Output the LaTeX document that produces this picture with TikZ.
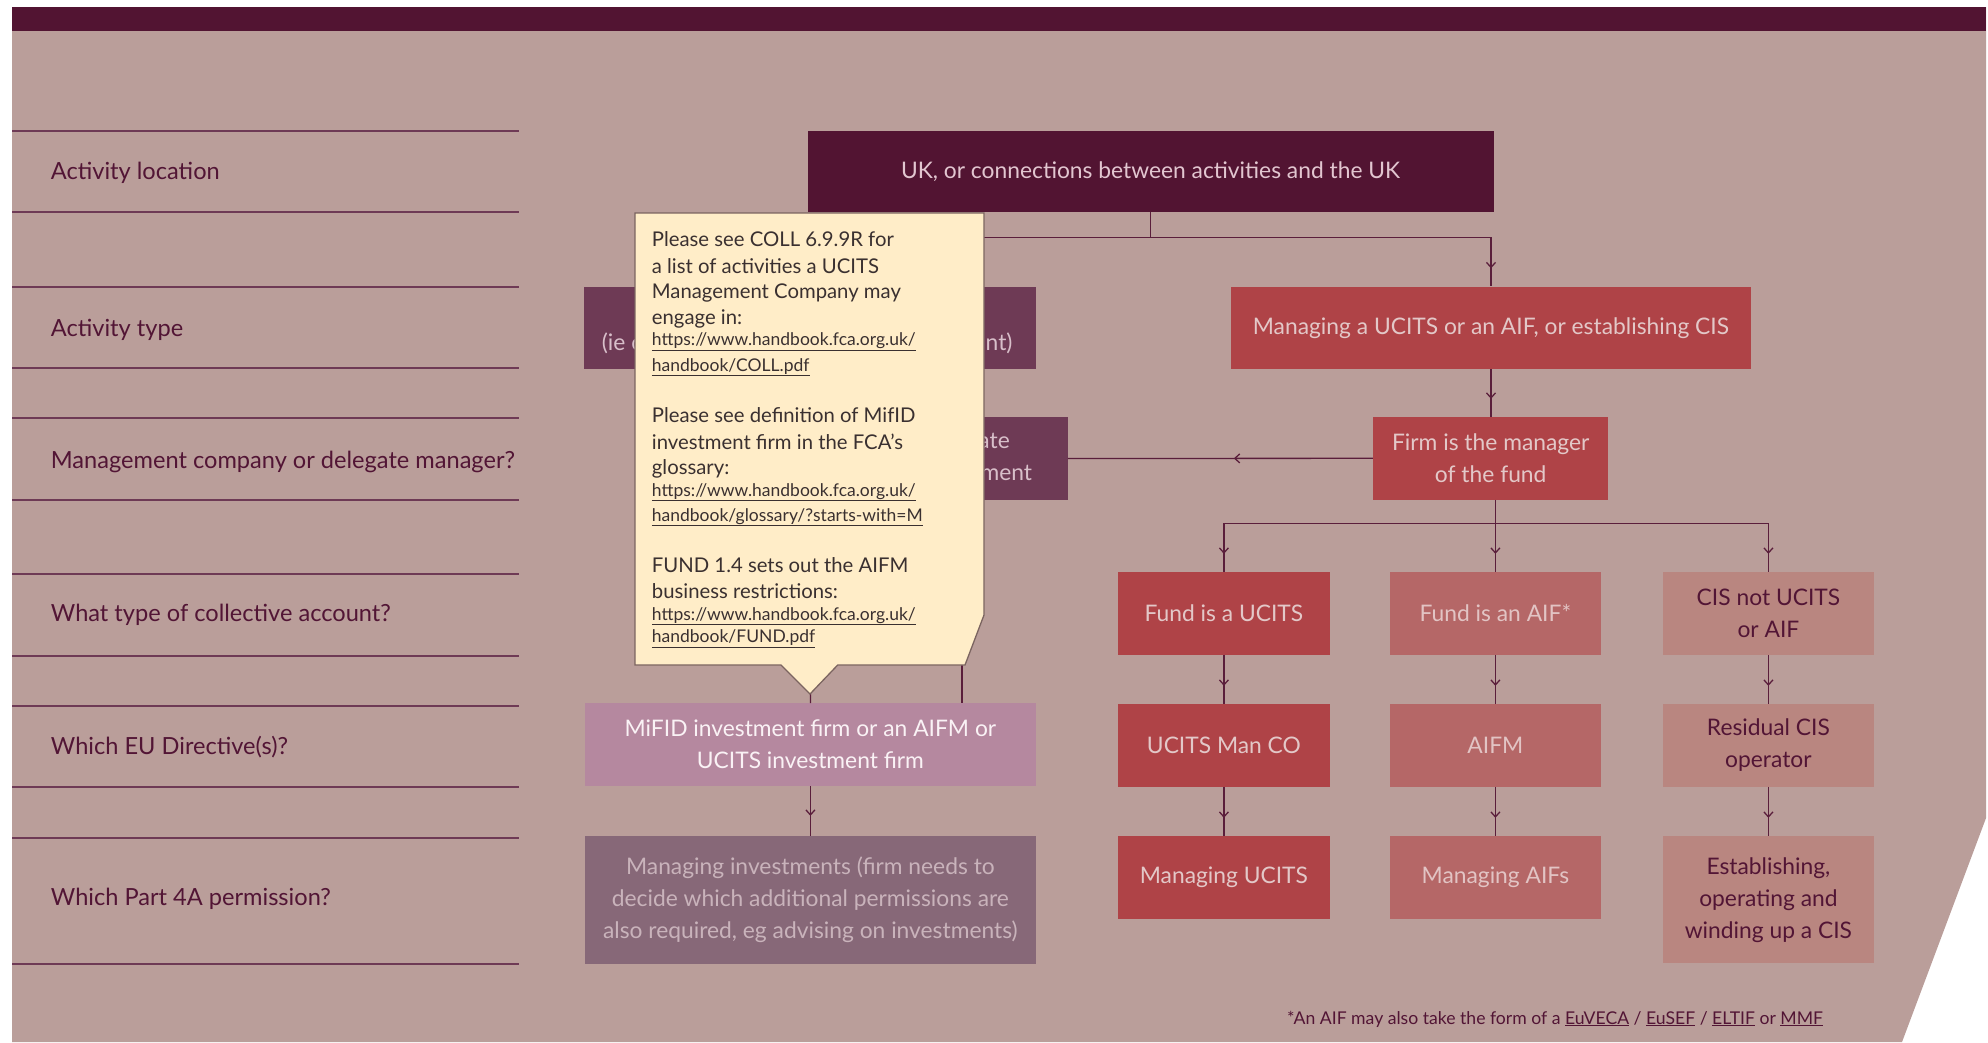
\documentclass[tikz,border=0pt]{standalone}
\usepackage{fontspec}
\setmainfont{Lato}
\usetikzlibrary{arrows.meta,decorations.markings}

\definecolor{pagebg}{HTML}{BA9E9A}
\definecolor{plum}{HTML}{521432}
\definecolor{labelc}{HTML}{521535}
\definecolor{rulec}{HTML}{6E3A55}
\definecolor{connc}{HTML}{5A1E3B}
\definecolor{mauvebox}{HTML}{6E3A55}
\definecolor{mauvetext}{HTML}{D8BFCA}
\definecolor{ukt}{HTML}{E2C6D0}
\definecolor{redbox}{HTML}{AF4347}
\definecolor{redtext}{HTML}{E3C8C8}
\definecolor{rosebox}{HTML}{B56767}
\definecolor{rosetext}{HTML}{E2C4C4}
\definecolor{pinkbox}{HTML}{B98680}
\definecolor{lilacbox}{HTML}{B5889F}
\definecolor{lilactext}{HTML}{FAF2F5}
\definecolor{greybox}{HTML}{876878}
\definecolor{greytext}{HTML}{C9B3BB}
\definecolor{notefill}{HTML}{FFEDC8}
\definecolor{noteedge}{HTML}{7B6460}
\definecolor{notetext}{HTML}{3A3030}

\tikzset{
  boxbase/.style={rectangle, inner sep=0pt, align=center,
    font=\fontsize{22.8}{32}\selectfont},
  box/.style 2 args={boxbase, minimum width=#1pt, minimum height=#2pt},
  lbl/.style={anchor=base west, inner sep=0pt, text=labelc,
    font=\fontsize{23.6}{26}\selectfont},
  conn/.style={draw=connc, line width=1.3pt},
  arrowat/.style={postaction={decorate}, decoration={markings,
    mark=at position #1 with {\arrow{Straight Barb[length=5pt,width=9pt,line width=1.3pt]}}}},
  arrowat/.default=-18pt,
  notebody/.style={fill=notefill, draw=noteedge, line width=1.3pt, line join=miter},
  noteline/.style={anchor=base west, inner sep=0pt, text=notetext,
    font=\fontsize{20.3}{26}\selectfont},
  noteurl/.style={anchor=base west, inner sep=0pt, text=notetext,
    font=\fontsize{17.5}{25}\selectfont},
  boxfrag/.style={inner sep=0pt, text=mauvetext, font=\fontsize{22.8}{32}\selectfont},
}

\begin{document}
\begin{tikzpicture}[x=1pt,y=-1pt]
\useasboundingbox (0,0) rectangle (1988,1042);
\fill[white] (0,0) rectangle (1988,1042);

% page background with the cut lower-right corner, and the header band
\fill[pagebg] (12,7) -- (1986,7) -- (1986,818) -- (1902,1042) -- (12,1042) -- cycle;
\fill[plum] (12,7) rectangle (1986,31);

% row rules of the question column
\foreach \y in {131,211.7,286.5,367.7,418.4,499.6,574.4,655.5,706.2,787.4,838.1,963.6}
  \draw[rulec, line width=2pt] (12,\y) -- (519,\y);

% question labels
\node[lbl] (q1) at (50.7,179) {Activity location};
\node[lbl] (q2) at (50.7,336) {Activity type};
\node[lbl] (q3) at (50.7,468) {Management company or delegate manager?};
\node[lbl] (q4) at (50.7,621.5) {What type of collective account?};
\node[lbl] (q5) at (50.7,754.5) {Which EU Directive(s)?};
\node[lbl] (q6) at (50.7,905.5) {Which Part 4A permission?};

% flow boxes
\node[box={686}{81}, fill=plum, text=ukt] (uk) at (1150.6,171.2)
  {UK, or connections between activities and the UK};
\node[box={451.5}{82.5}, fill=mauvebox] (act) at (810.2,327.8) {};
\node[box={520}{82.5}, fill=redbox, text=redtext] (mgmt) at (1491,327.8)
  {Managing a UCITS or an AIF, or establishing CIS};
\node[box={211}{83}, fill=mauvebox] (deleg) at (962.1,458.5) {};
\node[box={235.5}{82.5}, fill=redbox, text=redtext] (firm) at (1490.7,458.3)
  {Firm is the manager\\of the fund};

\node[box={211.2}{82.7}, fill=redbox, text=redtext] (ucits) at (1223.9,613.4) {Fund is a UCITS};
\node[box={211.2}{82.7}, fill=rosebox, text=rosetext] (aif) at (1495.4,613.4) {Fund is an AIF*};
\node[box={211.2}{82.7}, fill=pinkbox, text=labelc] (cis) at (1768.4,613.4) {CIS not UCITS\\or AIF};

\node[box={211.2}{82.7}, fill=redbox, text=redtext] (ucitsman) at (1223.9,745.4) {UCITS Man CO};
\node[box={211.2}{82.7}, fill=rosebox, text=rosetext] (aifm) at (1495.4,745.4) {AIFM};
\node[box={211.2}{82.7}, fill=pinkbox, text=labelc] (rcis) at (1768.4,745.4) {Residual CIS\\operator};

\node[box={211.2}{82.7}, fill=redbox, text=redtext] (mucits) at (1223.9,877.4) {Managing UCITS};
\node[box={211.2}{82.7}, fill=rosebox, text=rosetext] (maifs) at (1495.4,877.4) {Managing AIFs};
\node[box={211.2}{127.3}, fill=pinkbox, text=labelc] (ecis) at (1768.4,899.7)
  {Establishing,\\operating and\\winding up a CIS};

\node[box={450.7}{82.4}, fill=lilacbox, text=lilactext] (mifid) at (810.4,744.5)
  {MiFID investment firm or an AIFM or\\UCITS investment firm};
\node[box={450.7}{128.3}, fill=greybox, text=greytext] (maninv) at (810.4,900.2)
  {Managing investments (firm needs to\\decide which additional permissions are\\also required, eg advising on investments)};

% text of the two boxes that sit under the note
\node[boxfrag, anchor=base west] (actl) at (601.7,350) {(ie c};
\node[boxfrag, anchor=base east] (actr) at (1012.7,350) {nt)};
\node[boxfrag, anchor=base east] (delega) at (1010,448.5) {ate};
\node[boxfrag, anchor=base east] (delegb) at (1032.3,480) {ment};

% connectors
\coordinate (j1) at (1150.6,237.3);
\draw[conn] (uk.south) -- (j1);
\draw[conn, arrowat] (j1) -| (mgmt.north);
\draw[conn, arrowat] (j1) -| (act.north);
\draw[conn, arrowat] (mgmt.south) -- (mgmt.south |- firm.north);
\draw[conn, arrowat=-166pt] (firm.west) -- (deleg.east);

\coordinate (j2) at (1495.4,523.3);
\draw[conn] (aif.north |- firm.south) -- (j2);
\draw[conn, arrowat] (j2) -| (ucits.north);
\draw[conn, arrowat] (j2) -- (aif.north);
\draw[conn, arrowat] (j2) -| (cis.north);

\draw[conn, arrowat] (ucits.south) -- (ucitsman.north);
\draw[conn, arrowat] (aif.south) -- (aifm.north);
\draw[conn, arrowat] (cis.south) -- (rcis.north);
\draw[conn, arrowat] (ucitsman.south) -- (mucits.north);
\draw[conn, arrowat] (aifm.south) -- (maifs.north);
\draw[conn, arrowat] (rcis.south) -- (ecis.north);

\draw[conn, arrowat] (act.south) -- (mifid.north);
\draw[conn] (deleg.south) -- (deleg.south |- mifid.north);
\draw[conn, arrowat=-20pt] (mifid.south) -- (maninv.north);

% pop-up note with pointer
\draw[notebody] (635,213) -- (984,213) -- (984,615) -- (965,665) -- (837.7,665)
  -- (810,694) -- (781,665) -- (635,665) -- cycle;
\node[noteline] (n1) at (651.7,246.6) {Please see COLL 6.9.9R for};
\node[noteline] (n2) at (651.7,273.3) {a list of activities a UCITS};
\node[noteline] (n3) at (651.7,298.6) {Management Company may};
\node[noteline] (n4) at (651.7,324.6) {engage in:};
\node[noteurl] (n5) at (651.7,345.7) {\underline{https://www.handbook.fca.org.uk/}};
\node[noteurl] (n6) at (651.7,371) {\underline{handbook/COLL.pdf}};
\node[noteline] (n7) at (651.7,422.6) {Please see definition of MifID};
\node[noteline] (n8) at (651.7,449.3) {investment firm in the FCA’s};
\node[noteline] (n9) at (651.7,474.6) {glossary:};
\node[noteurl] (n10) at (651.7,496) {\underline{https://www.handbook.fca.org.uk/}};
\node[noteurl] (n11) at (651.7,521) {\underline{handbook/glossary/?starts-with=M}};
\node[noteline] (n12) at (651.7,572.6) {FUND 1.4 sets out the AIFM};
\node[noteline] (n13) at (651.7,598.6) {business restrictions:};
\node[noteurl] (n14) at (651.7,620) {\underline{https://www.handbook.fca.org.uk/}};
\node[noteurl] (n15) at (651.7,642.7) {\underline{handbook/FUND.pdf}};

% footnote
\node[anchor=base west, inner sep=0pt, text=labelc, font=\fontsize{17.6}{20}\selectfont]
  (foot) at (1287,1024)
  {*An AIF may also take the form of a \underline{EuVECA} / \underline{EuSEF} / \underline{ELTIF} or \underline{MMF}};
\end{tikzpicture}
\end{document}
